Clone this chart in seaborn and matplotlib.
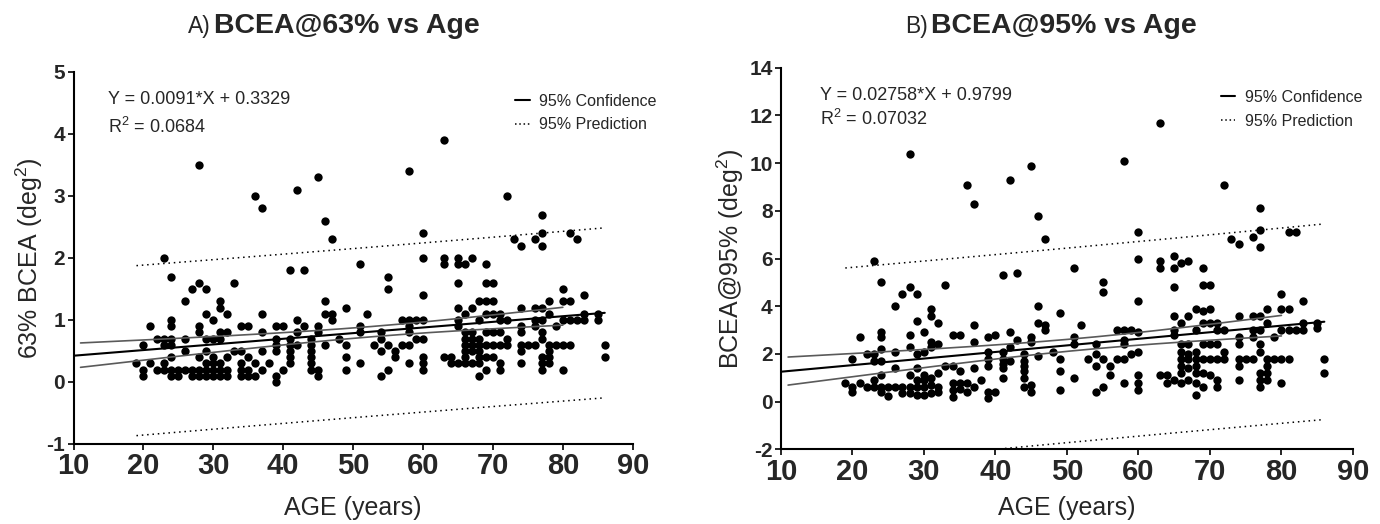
import numpy as np
import matplotlib
matplotlib.use("Agg")
import matplotlib.pyplot as plt
import seaborn as sns
from matplotlib.lines import Line2D

# values (same subjects in both panels)
age = [19,
       20, 20, 20,
       21, 21,
       22, 22,
       23, 23, 23, 23, 23,
       24, 24, 24, 24, 24, 24, 24, 24,
       25, 25,
       26, 26, 26, 26,
       27, 27, 27,
       28, 28, 28, 28, 28, 28, 28,
       29, 29, 29, 29, 29, 29, 29,
       30, 30, 30, 30, 30, 30,
       31, 31, 31, 31, 31, 31, 31,
       32, 32, 32, 32, 32,
       33, 33,
       34, 34, 34, 34, 34,
       35, 35, 35, 35,
       36, 36, 36,
       37, 37, 37, 37, 37,
       38,
       39, 39, 39, 39, 39, 39,
       40, 40,
       41, 41, 41, 41, 41, 41,
       42, 42, 42, 42,
       43, 43,
       44, 44, 44, 44, 44, 44,
       45, 45, 45, 45, 45,
       46, 46, 46, 46,
       47, 47, 47,
       48,
       49, 49, 49, 49,
       51, 51, 51, 51,
       52,
       53,
       54, 54, 54, 54,
       55, 55, 55, 55,
       56, 56,
       57, 57,
       58, 58, 58, 58, 58, 58,
       59, 59,
       60, 60, 60, 60, 60, 60, 60, 60,
       63, 63, 63, 63,
       64, 64,
       65, 65, 65, 65, 65, 65, 65,
       66, 66, 66, 66, 66, 66, 66, 66,
       67, 67, 67, 67, 67, 67, 67,
       68, 68, 68, 68, 68, 68, 68, 68,
       69, 69, 69, 69, 69, 69, 69, 69,
       70, 70, 70, 70, 70, 70,
       71, 71, 71, 71, 71, 71,
       72, 72, 72, 72,
       73,
       74, 74, 74, 74, 74, 74, 74,
       75,
       76, 76, 76, 76, 76,
       77, 77, 77, 77, 77, 77, 77, 77, 77, 77,
       78, 78, 78, 78, 78, 78,
       79, 79,
       80, 80, 80, 80, 80,
       81, 81, 81, 81,
       82, 82,
       83, 83, 83,
       85, 85,
       86, 86]

bcea63 = [0.3,
          0.6, 0.2, 0.1,
          0.9, 0.3,
          0.7, 0.2,
          2.0, 0.7, 0.6, 0.3, 0.2,
          1.7, 1.0, 0.9, 0.7, 0.6, 0.4, 0.2, 0.1,
          0.2, 0.1,
          1.3, 0.7, 0.5, 0.2,
          1.5, 0.2, 0.1,
          3.5, 1.6, 0.9, 0.8, 0.4, 0.2, 0.1,
          1.5, 1.1, 0.7, 0.5, 0.3, 0.2, 0.1,
          1.0, 0.7, 0.4, 0.3, 0.2, 0.1,
          1.3, 1.2, 0.8, 0.7, 0.3, 0.2, 0.1,
          1.1, 0.8, 0.4, 0.2, 0.1,
          1.6, 0.5,
          0.9, 0.5, 0.3, 0.2, 0.1,
          0.9, 0.4, 0.2, 0.1,
          3.0, 0.3, 0.1,
          2.8, 1.1, 0.8, 0.5, 0.2,
          0.3,
          0.9, 0.7, 0.6, 0.5, 0.1, 0.0,
          0.9, 0.2,
          1.8, 0.7, 0.6, 0.5, 0.4, 0.3,
          3.1, 1.0, 0.8, 0.6,
          1.8, 0.9,
          0.7, 0.6, 0.5, 0.4, 0.3, 0.2,
          3.3, 0.9, 0.8, 0.2, 0.1,
          2.6, 1.3, 1.1, 0.6,
          2.3, 1.1, 1.0,
          0.7,
          1.2, 0.6, 0.4, 0.2,
          1.9, 0.9, 0.8, 0.3,
          1.1,
          0.6,
          0.8, 0.7, 0.5, 0.1,
          1.7, 1.5, 0.6, 0.2,
          0.5, 0.4,
          1.0, 0.6,
          3.4, 1.0, 0.9, 0.8, 0.6, 0.3,
          1.0, 0.7,
          2.4, 2.0, 1.4, 1.0, 0.7, 0.4, 0.3, 0.2,
          3.9, 2.0, 1.9, 0.4,
          0.4, 0.3,
          2.0, 1.9, 1.6, 1.2, 1.0, 0.9, 0.3,
          1.9, 1.1, 0.8, 0.7, 0.6, 0.5, 0.4, 0.3,
          2.0, 1.2, 0.8, 0.7, 0.6, 0.5, 0.3,
          1.3, 1.0, 0.7, 0.6, 0.5, 0.4, 0.3, 0.1,
          1.9, 1.6, 1.3, 1.1, 0.8, 0.6, 0.4, 0.2,
          1.6, 1.3, 1.1, 0.8, 0.6, 0.4,
          1.1, 1.0, 0.8, 0.6, 0.3, 0.2,
          3.0, 1.0, 0.7, 0.6,
          2.3,
          2.2, 1.2, 0.9, 0.8, 0.6, 0.5, 0.3,
          0.6,
          2.3, 1.2, 1.0, 0.9, 0.6,
          2.7, 2.4, 2.2, 1.2, 1.0, 0.8, 0.7, 0.4, 0.3, 0.2,
          1.3, 1.1, 0.6, 0.5, 0.4, 0.3,
          0.9, 0.6,
          1.5, 1.3, 1.0, 0.6, 0.2,
          2.4, 1.3, 1.0, 0.6,
          2.3, 1.0,
          1.4, 1.1, 1.0,
          1.1, 1.0,
          0.6, 0.4]

bcea95 = [0.8,
          1.8, 0.6, 0.4,
          2.7, 0.8,
          2.0, 0.6,
          5.9, 2.0, 1.7, 0.9, 0.6,
          5.0, 2.9, 2.7, 2.2, 1.7, 1.1, 0.6, 0.4,
          0.6, 0.25,
          4.0, 2.1, 1.4, 0.6,
          4.5, 0.6, 0.35,
          10.4, 4.8, 2.8, 2.3, 1.1, 0.6, 0.35,
          4.5, 3.4, 2.0, 1.4, 0.9, 0.6, 0.3,
          2.9, 2.1, 1.1, 0.9, 0.6, 0.3,
          3.9, 3.6, 2.5, 2.3, 1.0, 0.7, 0.35,
          3.3, 2.4, 1.2, 0.6, 0.4,
          4.9, 1.5,
          2.8, 1.5, 0.8, 0.5, 0.2,
          2.8, 1.3, 0.8, 0.55,
          9.1, 0.8, 0.4,
          8.3, 3.2, 2.5, 1.4, 0.6,
          0.9,
          2.7, 2.1, 1.8, 1.5, 0.4, 0.15,
          2.8, 0.4,
          5.3, 2.1, 1.8, 1.6, 1.4, 1.0,
          9.3, 2.9, 2.3, 1.7,
          5.4, 2.6,
          2.0, 1.7, 1.5, 1.3, 1.0, 0.6,
          9.9, 2.7, 2.5, 0.7, 0.4,
          7.8, 4.0, 3.3, 1.9,
          6.8, 3.2, 3.0,
          2.1,
          3.7, 1.8, 1.3, 0.5,
          5.6, 2.7, 2.4, 1.0,
          3.2,
          1.8,
          2.4, 2.0, 1.5, 0.4,
          5.0, 4.6, 1.8, 0.6,
          1.5, 1.1,
          3.0, 1.8,
          10.1, 3.0, 2.6, 2.4, 1.8, 0.8,
          3.0, 2.0,
          7.1, 6.0, 4.2, 2.9, 2.1, 1.1, 0.8, 0.5,
          11.7, 5.9, 5.6, 1.1,
          1.1, 0.8,
          6.1, 5.6, 4.8, 3.6, 3.0, 2.8, 0.9,
          5.8, 3.3, 2.4, 2.1, 1.8, 1.5, 1.2, 0.8,
          5.9, 3.6, 2.4, 2.0, 1.8, 1.4, 0.9,
          3.9, 3.0, 2.1, 1.8, 1.5, 1.2, 0.8, 0.3,
          5.6, 4.9, 3.8, 3.3, 2.4, 1.8, 1.2, 0.6,
          4.9, 3.9, 3.3, 2.4, 1.8, 1.1,
          3.3, 3.0, 2.4, 1.8, 0.9, 0.6,
          9.1, 3.0, 2.1, 1.8,
          6.8,
          6.6, 3.6, 2.7, 2.4, 1.8, 1.5, 0.9,
          1.8,
          6.9, 3.6, 3.0, 2.7, 1.8,
          8.1, 7.2, 6.5, 3.6, 3.0, 2.4, 2.1, 1.2, 0.9, 0.6,
          3.9, 3.3, 1.8, 1.5, 1.2, 0.9,
          2.7, 1.8,
          4.5, 3.9, 3.0, 1.8, 0.8,
          7.1, 3.9, 3.0, 1.8,
          7.1, 3.0,
          4.2, 3.3, 3.0,
          3.3, 3.1,
          1.8, 1.2]

# fitted lines printed on the chart
slope_a, intercept_a = 0.0091, 0.3329
slope_b, intercept_b = 0.02758, 0.9799
t_crit = 1.97

assert len(age) == len(bcea63) == len(bcea95)

sns.set_style("ticks")
plt.rcParams['font.family'] = ['Liberation Sans', 'DejaVu Sans']
plt.rcParams['mathtext.fontset'] = 'custom'
plt.rcParams['mathtext.rm'] = 'Liberation Sans'
plt.rcParams['mathtext.default'] = 'regular'


def bands(x, y, slope, intercept, xs):
    x = np.asarray(x, float)
    y = np.asarray(y, float)
    n = len(x)
    resid = y - (slope * x + intercept)
    s = np.sqrt(np.sum(resid ** 2) / (n - 2))
    xbar = x.mean()
    sxx = np.sum((x - xbar) ** 2)
    yhat = slope * xs + intercept
    ci = t_crit * s * np.sqrt(1.0 / n + (xs - xbar) ** 2 / sxx)
    pi = t_crit * s * np.sqrt(1 + 1.0 / n + (xs - xbar) ** 2 / sxx)
    return yhat, ci, pi


def panel(ax, y, slope, intercept, ylim, ystep, ylabel, eq, r2, eq_pos, leg_pos, ylab_x, xlab_y):
    sns.scatterplot(x=age, y=y, ax=ax, color='black', s=36, linewidth=0,
                    legend=False, zorder=2)

    xl = np.linspace(10, 86, 200)
    yl, _, _ = bands(age, y, slope, intercept, xl)
    ax.plot(xl, yl, color='black', lw=1.5, zorder=4)

    xc = np.linspace(11, 80, 200)
    yc, ci, _ = bands(age, y, slope, intercept, xc)
    ax.plot(xc, yc + ci, color='#5a5a5a', lw=1.2, zorder=3)
    ax.plot(xc, yc - ci, color='#5a5a5a', lw=1.2, zorder=3)

    xp = np.linspace(min(age), max(age), 200)
    yp, _, pi = bands(age, y, slope, intercept, xp)
    ax.plot(xp, yp + pi, color='black', lw=1.1, ls=(0, (1, 2.5)), zorder=3)
    ax.plot(xp, yp - pi, color='black', lw=1.1, ls=(0, (1, 2.5)), zorder=3)

    ax.set_xlim(10, 90)
    ax.set_ylim(*ylim)
    xt = np.arange(10, 91, 10)
    yt = np.arange(ylim[0], ylim[1] + 0.1, ystep)
    ax.set_xticks(xt)
    ax.set_xticklabels([str(v) for v in xt], fontsize=21, fontweight='bold')
    ax.set_yticks(yt)
    ax.set_yticklabels([str(int(v)) for v in yt], fontsize=15, fontweight='bold')
    ax.tick_params(axis='both', direction='out', length=4, width=1.2, color='black')
    ax.tick_params(axis='x', pad=2)
    ax.tick_params(axis='y', pad=2)
    for sp in ['left', 'bottom']:
        ax.spines[sp].set_linewidth(1.5)
        ax.spines[sp].set_color('black')
    sns.despine(ax=ax)

    ax.set_xlabel('AGE (years)', fontsize=18)
    ax.set_ylabel(ylabel, fontsize=18)
    ax.xaxis.set_label_coords(0.5, xlab_y)
    ax.xaxis.label.set_va('center')
    ax.yaxis.set_label_coords(ylab_x, 0.5)
    ax.yaxis.label.set_va('center')

    ax.text(eq_pos[0], eq_pos[1], eq, transform=ax.transAxes, fontsize=13,
            va='center', ha='left')
    ax.text(eq_pos[0], eq_pos[2], r2, transform=ax.transAxes, fontsize=13,
            va='center', ha='left')

    handles = [Line2D([], [], color='black', lw=1.5),
               Line2D([], [], color='black', lw=1.1, ls=(0, (1, 1.8)))]
    ax.legend(handles, ['95% Confidence', '95% Prediction'], loc='upper left',
              bbox_to_anchor=leg_pos, frameon=False, fontsize=11.5,
              borderaxespad=0, borderpad=0, handlelength=0.9,
              handletextpad=0.6, labelspacing=0.55)


fig = plt.figure(figsize=(13.8, 5.24), dpi=100)
ax_a = fig.add_axes([0.0533, 0.1527, 0.4052, 0.7099])
ax_b = fig.add_axes([0.5659, 0.1424, 0.4145, 0.7284])

panel(ax_a, bcea63, slope_a, intercept_a, (-1, 5), 1, '63% BCEA (deg$^2$)',
      'Y = 0.0091*X + 0.3329', 'R$^2$ = 0.0684', (0.062, 0.925, 0.853),
      (0.79, 0.942), -0.08, -0.172)
panel(ax_b, bcea95, slope_b, intercept_b, (-2, 14), 2, 'BCEA@95% (deg$^2$)',
      'Y = 0.02758*X + 0.9799', 'R$^2$ = 0.07032', (0.069, 0.928, 0.865),
      (0.769, 0.942), -0.088, -0.153)

fig.text(211 / 1380, 1 - 33 / 524, 'A)', fontsize=16.5, ha='right', va='baseline')
fig.text(214 / 1380, 1 - 33 / 524, 'BCEA@63% vs Age', fontsize=20.5,
         fontweight='bold', ha='left', va='baseline')
fig.text(928 / 1380, 1 - 33 / 524, 'B)', fontsize=16.5, ha='right', va='baseline')
fig.text(931 / 1380, 1 - 33 / 524, 'BCEA@95% vs Age', fontsize=20.5,
         fontweight='bold', ha='left', va='baseline')

fig.savefig('out.png', dpi=100)
